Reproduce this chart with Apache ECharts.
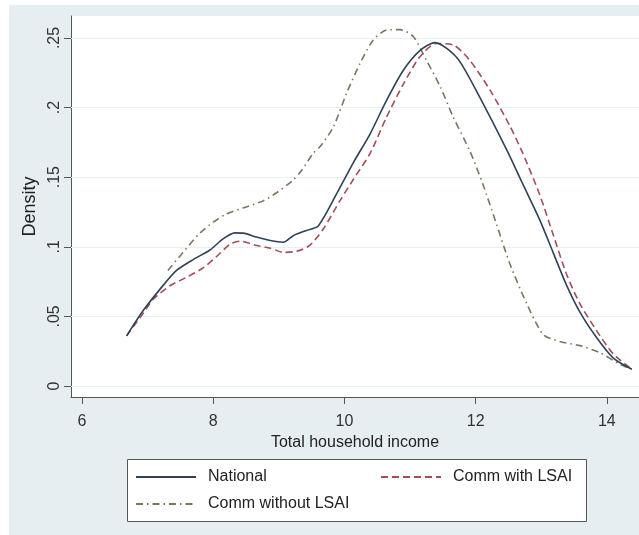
<!DOCTYPE html>
<html>
<head>
<meta charset="utf-8">
<script src="https://cdn.jsdelivr.net/npm/echarts@6/dist/echarts.min.js"></script>
<style>
  html, body { margin: 0; padding: 0; background: #ffffff; }
  #bg { position: absolute; left: 9px; top: 5px; width: 630px; height: 530px; background: #e7eef1; }
  #chart { position: absolute; left: 0; top: 0; width: 639px; height: 535px; }
</style>
</head>
<body>
<div id="bg"></div>
<div id="chart"></div>
<script>
// ---- data ----
const seriesNames = ['National', 'Comm with LSAI', 'Comm without LSAI'];

const nationalX = [6.68, 6.93, 7.19, 7.44, 7.70, 7.95, 8.15, 8.33, 8.46, 8.66, 8.87, 9.07, 9.22, 9.42, 9.60, 9.88, 10.13, 10.39, 10.64, 10.90, 11.15, 11.38, 11.56, 11.76, 12.06, 12.47, 12.72, 12.98, 13.18, 13.38, 13.59, 13.84, 14.10, 14.38];
const nationalY = [0.036, 0.054, 0.0696, 0.083, 0.091, 0.0977, 0.1057, 0.110, 0.1098, 0.107, 0.1045, 0.1033, 0.108, 0.1117, 0.115, 0.138, 0.160, 0.181, 0.205, 0.227, 0.241, 0.2467, 0.2425, 0.233, 0.2077, 0.170, 0.145, 0.119, 0.096, 0.073, 0.053, 0.035, 0.020, 0.012];

const withX = [6.68, 6.93, 7.09, 7.34, 7.59, 7.85, 8.05, 8.26, 8.41, 8.66, 8.87, 9.07, 9.27, 9.47, 9.68, 9.93, 10.13, 10.39, 10.64, 10.90, 11.15, 11.40, 11.66, 11.91, 12.22, 12.52, 12.72, 12.98, 13.18, 13.38, 13.59, 13.84, 14.10, 14.38];
const withY = [0.036, 0.052, 0.0625, 0.072, 0.078, 0.085, 0.093, 0.102, 0.104, 0.101, 0.099, 0.096, 0.0968, 0.101, 0.113, 0.133, 0.148, 0.167, 0.193, 0.217, 0.2365, 0.246, 0.245, 0.234, 0.2125, 0.187, 0.167, 0.137, 0.109, 0.081, 0.059, 0.040, 0.023, 0.012];

const withoutX = [7.31, 7.54, 7.80, 8.00, 8.20, 8.46, 8.76, 8.97, 9.22, 9.35, 9.52, 9.63, 9.83, 10.03, 10.24, 10.44, 10.64, 10.85, 11.05, 11.25, 11.46, 11.66, 11.91, 12.11, 12.32, 12.52, 12.78, 13.03, 13.28, 13.59, 13.89, 14.20, 14.38];
const withoutY = [0.083, 0.096, 0.110, 0.1177, 0.1236, 0.128, 0.133, 0.139, 0.148, 0.155, 0.167, 0.172, 0.186, 0.210, 0.232, 0.2485, 0.2557, 0.256, 0.251, 0.234, 0.215, 0.193, 0.169, 0.145, 0.116, 0.088, 0.059, 0.037, 0.032, 0.029, 0.024, 0.0156, 0.012];

const xTickValues = [6, 8, 10, 12, 14];
const yTickValues = [0, 0.05, 0.1, 0.15, 0.2, 0.25];
const yTickLabels = ['0', '.05', '.1', '.15', '.2', '.25'];

const xTitle = 'Total household income';
const yTitle = 'Density';

// ---- chart ----
const FONT = '"Liberation Sans", Arial, sans-serif';
const colors = ['#2f4257', '#a04e58', '#717a5e'];
const dashes = ['solid', [7, 4], [7, 4, 1.5, 4]];

function pairs(xs, ys) { return xs.map((x, i) => [x, ys[i]]); }

const chart = echarts.init(document.getElementById('chart'), null, { renderer: 'canvas' });

const legendBase = {
  orient: 'horizontal',
  padding: 0,
  itemWidth: 60,
  itemHeight: 14,
  itemStyle: { opacity: 0 },
  textStyle: { fontFamily: FONT, fontSize: 16, color: '#222', padding: [0, 0, 0, 7] },
  selectedMode: false
};

const option = {
  backgroundColor: 'transparent',
  animation: false,
  color: colors,
  grid: {
    left: 71, top: 16, right: 0, bottom: 138,
    show: true, backgroundColor: '#ffffff', borderWidth: 0
  },
  xAxis: {
    type: 'value',
    min: 5.832, max: 14.49,
    name: xTitle,
    nameLocation: 'middle',
    nameGap: 37,
    nameTextStyle: { fontFamily: FONT, fontSize: 16, color: '#222' },
    axisLine: { show: true, onZero: false, lineStyle: { color: '#555', width: 1 } },
    axisTick: { show: true, length: 7, customValues: xTickValues, lineStyle: { color: '#555' } },
    axisLabel: { customValues: xTickValues, margin: 17, fontFamily: FONT, fontSize: 16, color: '#333' },
    splitLine: { show: false }
  },
  yAxis: {
    type: 'value',
    min: -0.0079, max: 0.2658,
    name: yTitle,
    nameLocation: 'middle',
    nameGap: 20,
    nameRotate: 90,
    nameTextStyle: { fontFamily: FONT, fontSize: 18, color: '#222' },
    axisLine: { show: true, onZero: false, lineStyle: { color: '#555', width: 1 } },
    axisTick: { show: true, length: 7, customValues: yTickValues, lineStyle: { color: '#555' } },
    axisLabel: {
      customValues: yTickValues, rotate: 90, margin: 8,
      fontFamily: FONT, fontSize: 16, color: '#333',
      formatter: v => { const i = yTickValues.findIndex(t => Math.abs(t - v) < 1e-9); return i >= 0 ? yTickLabels[i] : ''; }
    },
    splitLine: { show: false }
  },
  legend: [
    Object.assign({ data: [seriesNames[0]], left: 135, top: 469 }, legendBase),
    Object.assign({ data: [seriesNames[1]], left: 380, top: 469 }, legendBase),
    Object.assign({ data: [seriesNames[2]], left: 135, top: 496 }, legendBase)
  ],
  graphic: [
    {
      type: 'rect', z: 1,
      shape: { x: 127.5, y: 459.5, width: 459, height: 62 },
      style: { fill: '#ffffff', stroke: '#555', lineWidth: 1 }
    }
  ],
  series: [
    {
      name: seriesNames[0], type: 'line', data: pairs(nationalX, nationalY),
      smooth: 0.25, symbol: 'none', z: 5,
      lineStyle: { color: colors[0], width: 1.6, type: dashes[0] },
      markLine: {
        silent: true, symbol: 'none', label: { show: false }, z: 1,
        lineStyle: { color: '#e9f0f2', width: 1, type: 'solid' },
        data: yTickValues.map(v => ({ yAxis: v }))
      }
    },
    {
      name: seriesNames[1], type: 'line', data: pairs(withX, withY),
      smooth: 0.25, symbol: 'none', z: 4,
      lineStyle: { color: colors[1], width: 1.6, type: dashes[1] }
    },
    {
      name: seriesNames[2], type: 'line', data: pairs(withoutX, withoutY),
      smooth: 0.25, symbol: 'none', z: 3,
      lineStyle: { color: colors[2], width: 1.6, type: dashes[2] }
    }
  ]
};

chart.setOption(option);
</script>
</body>
</html>
